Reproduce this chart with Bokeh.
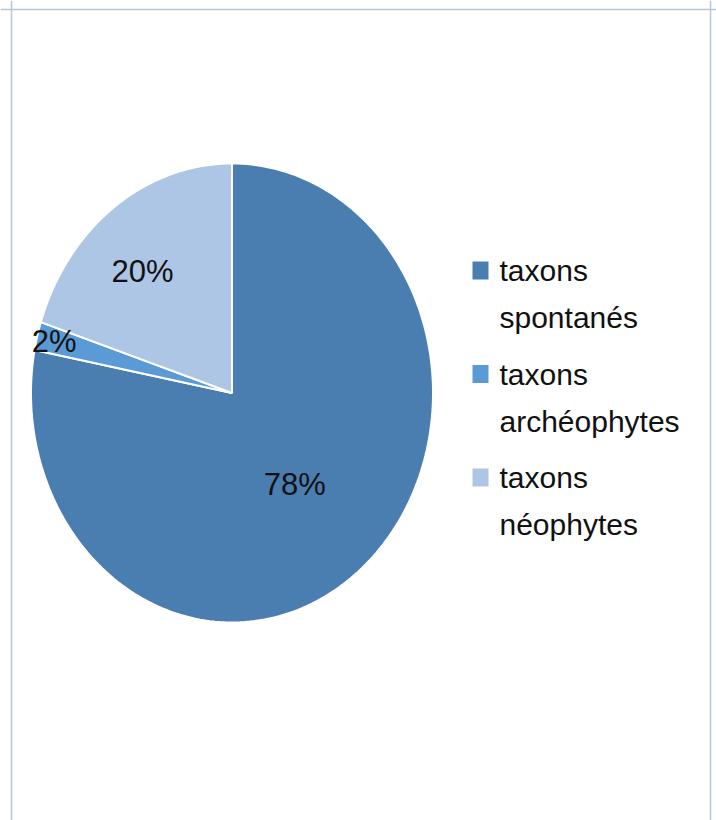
import numpy as np
from bokeh.plotting import figure
from bokeh.models import Range1d, Span
from bokeh.core.properties import value
from bokeh.embed import file_html
from bokeh.resources import INLINE

# ---- data ----
categories = ["taxons spontanés", "taxons archéophytes", "taxons néophytes"]
percents = [78, 2, 20]
labels = ["78%", "2%", "20%"]
colors = ["#4A7EB1", "#5B9BD5", "#AEC6E5"]

# ---- layout (pixel space of the figure) ----
W, H = 716, 820
CX, CY, RX, RY = 231.5, 392.5, 201.0, 229.5
LABEL_FX = [0.49, 0.914, 0.758]
LABEL_FY = [0.51, 0.92, 0.662]
FONT = "Liberation Sans"
FS_LAB = "31px"
FS_LEG = "30px"
CAP = 22.0
TEXT_DY = -10  # renderer baseline correction

p = figure(width=W, height=H, output_backend="svg", toolbar_location=None,
           x_range=Range1d(0, W), y_range=Range1d(H, 0),
           x_axis_type=None, y_axis_type=None, min_border=0,
           background_fill_color="white", border_fill_color="white",
           outline_line_color=None)
p.grid.visible = False

# pie slices (clockwise from 12 o'clock), elliptical
total = float(sum(percents))
fr = np.array(percents) / total
ends = np.cumsum(fr) * 2 * np.pi
starts = ends - fr * 2 * np.pi
xs, ys, lx, ly = [], [], [], []
for i, (a0, a1) in enumerate(zip(starts, ends)):
    a = np.linspace(a0, a1, 200)
    xs.append([CX] + list(CX + RX * np.sin(a)) + [CX])
    ys.append([CY] + list(CY - RY * np.cos(a)) + [CY])
    am = (a0 + a1) / 2
    lx.append(CX + LABEL_FX[i] * RX * np.sin(am))
    ly.append(CY - LABEL_FY[i] * RY * np.cos(am) + CAP / 2 + TEXT_DY)

p.patches(xs=xs, ys=ys, fill_color=colors, line_color="white", line_width=2)

p.text(x=lx, y=ly, text=labels, text_font=value(FONT), text_font_size=FS_LAB,
       text_color="#111111", text_align="center", text_baseline="alphabetic")

# legend (manual)
LEG_X = 472
LEG_TX = 499
LEG_B0 = 280
LEG_STEP = 103.5
LINE_STEP = 47
base = [LEG_B0 + i * LEG_STEP for i in range(len(categories))]
p.rect(x=[LEG_X + 8] * len(categories), y=[b - 10 for b in base],
       width=16, height=18, fill_color=colors, line_color=None)
first = [c.split(" ", 1)[0] for c in categories]
second = [c.split(" ", 1)[1] for c in categories]
p.text(x=[LEG_TX] * len(categories), y=[b + TEXT_DY for b in base], text=first,
       text_font=value(FONT), text_font_size=FS_LEG, text_color="#111111",
       text_baseline="alphabetic")
p.text(x=[LEG_TX] * len(categories), y=[b + LINE_STEP + TEXT_DY for b in base],
       text=second, text_font=value(FONT), text_font_size=FS_LEG,
       text_color="#111111", text_baseline="alphabetic")

# chart-area border (no bottom edge visible)
bc = "#B6C5D7"
p.add_layout(Span(location=11, dimension="height", line_color=bc, line_width=1.5))
p.add_layout(Span(location=710, dimension="height", line_color=bc, line_width=1.5))
p.add_layout(Span(location=9, dimension="width", line_color=bc, line_width=1.5))

open("out.html", "w").write(file_html(p, INLINE))
